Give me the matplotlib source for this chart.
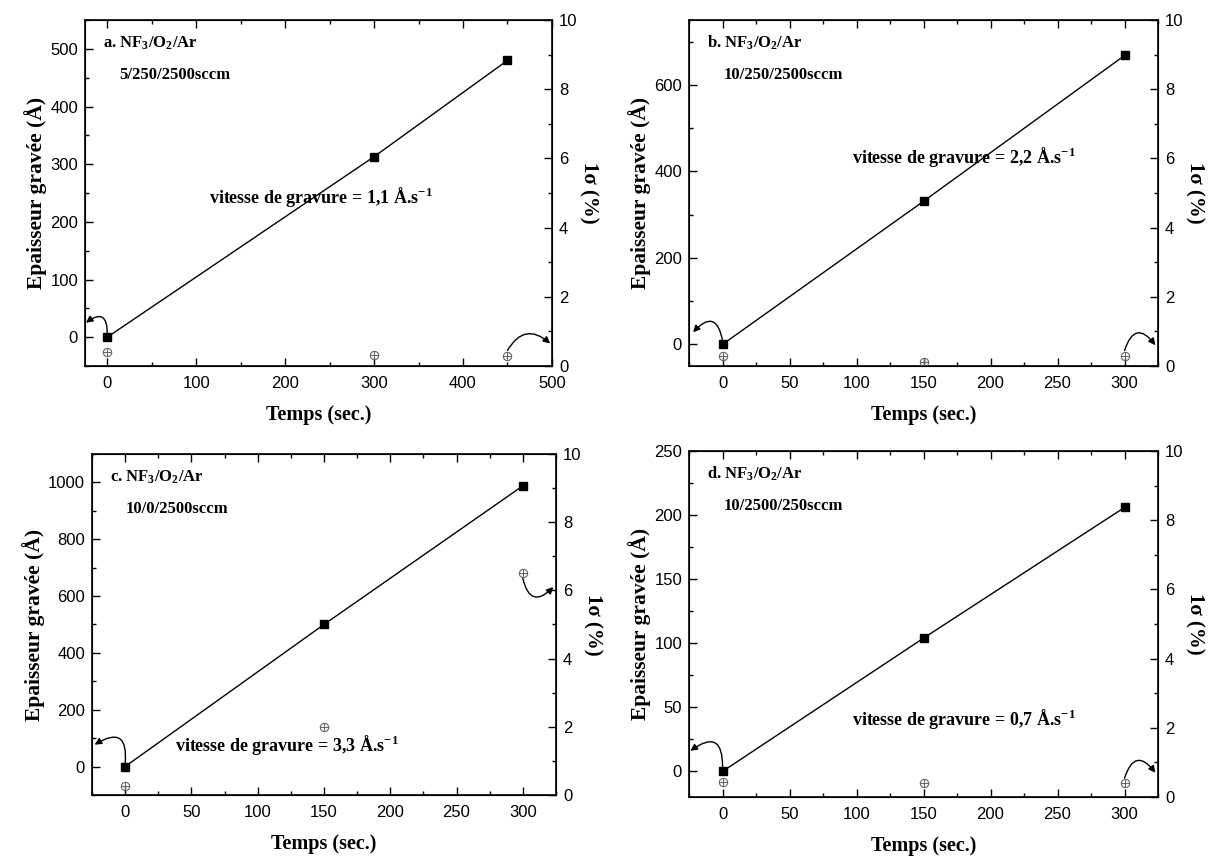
import matplotlib
matplotlib.use('Agg')
import matplotlib.pyplot as plt
from matplotlib.ticker import MultipleLocator

plt.rcParams['mathtext.fontset'] = 'custom'
plt.rcParams['mathtext.rm'] = 'Liberation Serif:bold'
plt.rcParams['mathtext.it'] = 'Liberation Serif:bold'
plt.rcParams['mathtext.bf'] = 'Liberation Serif:bold'

# data
temps_a = [0, 300, 450]
epaisseur_a = [0, 313, 480]
sigma_a = [0.40, 0.31, 0.28]

temps_b = [0, 150, 300]
epaisseur_b = [0, 331, 668]
sigma_b = [0.29, 0.12, 0.30]

temps_c = [0, 150, 300]
epaisseur_c = [0, 500, 988]
sigma_c = [0.27, 2.0, 6.5]

temps_d = [0, 150, 300]
epaisseur_d = [0, 104, 206]
sigma_d = [0.42, 0.40, 0.40]

titres = ['a. NF$_3$/O$_2$/Ar', 'b. NF$_3$/O$_2$/Ar', 'c. NF$_3$/O$_2$/Ar', 'd. NF$_3$/O$_2$/Ar']
debits = ['5/250/2500sccm', '10/250/2500sccm', '10/0/2500sccm', '10/2500/250sccm']
vitesses = ['1,1', '2,2', '3,3', '0,7']

serif = 'Liberation Serif'
sans = 'Liberation Sans'

fig = plt.figure(figsize=(12.23, 8.56), dpi=100)

# position, limits, tick steps, rate text position, arrows (start, end, rad)
panels = [
    dict(pos=[0.0695, 0.5724, 0.3818, 0.4042], t=temps_a, e=epaisseur_a, s=sigma_a,
         xlim=(-25, 500), ylim=(-50, 550), xt=(100, 50), yt=(100, 50), txt=(240, 243),
         arr_l=((0, 6), (-24, 25), 1.0), arr_r=((450, 0.45), (498, 0.65), -0.6)),
    dict(pos=[0.5634, 0.5724, 0.3835, 0.4042], t=temps_b, e=epaisseur_b, s=sigma_b,
         xlim=(-25, 325), ylim=(-50, 750), xt=(50, 25), yt=(200, 100), txt=(180, 433),
         arr_l=((0, 8), (-22, 28), 1.0), arr_r=((300, 0.45), (323, 0.6), -0.95)),
    dict(pos=[0.0752, 0.0713, 0.3794, 0.3983], t=temps_c, e=epaisseur_c, s=sigma_c,
         xlim=(-25, 325), ylim=(-100, 1100), xt=(50, 25), yt=(200, 100), txt=(122, 77),
         arr_l=((0, 10), (-23, 77), 1.0), arr_r=((300, 6.35), (323, 6.1), 0.9)),
    dict(pos=[0.5634, 0.0689, 0.3835, 0.4042], t=temps_d, e=epaisseur_d, s=sigma_d,
         xlim=(-25, 325), ylim=(-20, 250), xt=(50, 25), yt=(50, 25), txt=(180, 41),
         arr_l=((0, 3), (-24, 16), 1.0), arr_r=((300, 0.55), (323, 0.7), -0.95)),
]

for i, p in enumerate(panels):
    ax = fig.add_axes(p['pos'])
    ax2 = ax.twinx()

    ax.plot(p['t'], p['e'], color='k', lw=1, marker='s', ms=5.5, zorder=3)
    ax2.plot(p['t'], p['s'], ls='none', marker='o', mfc='none', mec='#666666', ms=6, mew=0.8)
    ax2.plot(p['t'], p['s'], ls='none', marker='+', color='#666666', ms=6, mew=0.8)

    ax.set_xlim(p['xlim'])
    ax.set_ylim(p['ylim'])
    ax2.set_ylim(0, 10)

    ax.xaxis.set_major_locator(MultipleLocator(p['xt'][0]))
    ax.xaxis.set_minor_locator(MultipleLocator(p['xt'][1]))
    ax.yaxis.set_major_locator(MultipleLocator(p['yt'][0]))
    ax.yaxis.set_minor_locator(MultipleLocator(p['yt'][1]))
    ax2.yaxis.set_major_locator(MultipleLocator(2))
    ax2.yaxis.set_minor_locator(MultipleLocator(1))

    ax.tick_params(which='both', direction='in', top=True, right=False, labelsize=12, width=1)
    ax.tick_params(which='major', length=6)
    ax.tick_params(which='minor', length=3)
    ax.tick_params(axis='x', which='major', pad=7)
    ax.tick_params(axis='y', which='major', pad=5)
    ax2.tick_params(which='both', direction='in', labelsize=12, width=1)
    ax2.tick_params(which='major', length=6, pad=5)
    ax2.tick_params(which='minor', length=3)
    for lab in ax.get_xticklabels() + ax.get_yticklabels() + ax2.get_yticklabels():
        lab.set_fontfamily(sans)
    for sp in ax.spines.values():
        sp.set_linewidth(1.2)

    ax.set_xlabel('Temps (sec.)', fontfamily=serif, fontweight='bold', fontsize=14.5, labelpad=10)
    ax.set_ylabel('Epaisseur gravée (Å)', fontfamily=serif, fontweight='bold', fontsize=15.5, labelpad=2)
    ax2.set_ylabel('1σ (%)', fontfamily=serif, fontweight='bold', fontsize=15, rotation=270, labelpad=15)

    ax.text(0.039, 0.933, titres[i], transform=ax.transAxes, fontfamily=serif,
            fontweight='bold', fontsize=12, va='center')
    ax.text(0.073, 0.84, debits[i], transform=ax.transAxes, fontfamily=serif,
            fontweight='bold', fontsize=12, va='center')
    ax.text(p['txt'][0], p['txt'][1], 'vitesse de gravure = ' + vitesses[i] + ' Å.s$^{-1}$',
            fontfamily=serif, fontweight='bold', fontsize=13, ha='center', va='center')

    # curved arrows pointing to the axis each series belongs to
    st, en, rad = p['arr_l']
    ax.annotate('', xy=en, xytext=st,
                arrowprops=dict(arrowstyle='-|>', color='k', lw=1, mutation_scale=10,
                                shrinkA=0, shrinkB=0, connectionstyle='arc3,rad=%s' % rad))
    st, en, rad = p['arr_r']
    ax2.annotate('', xy=en, xytext=st,
                 arrowprops=dict(arrowstyle='-|>', color='k', lw=1, mutation_scale=10,
                                 shrinkA=0, shrinkB=0, connectionstyle='arc3,rad=%s' % rad))

plt.savefig('out.png', dpi=100)
